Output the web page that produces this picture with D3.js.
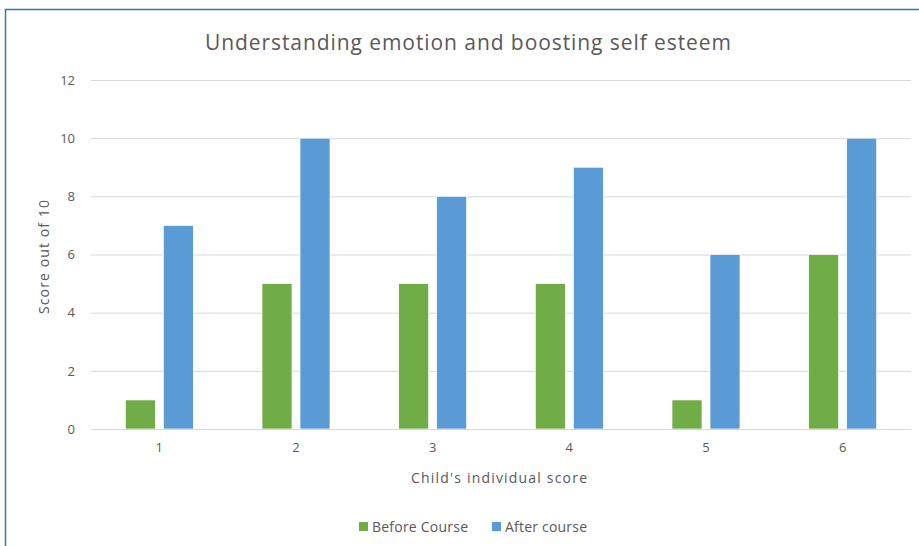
<!DOCTYPE html>
<html>
<head>
<meta charset="utf-8">
<script src="https://cdn.jsdelivr.net/npm/d3@7"></script>
<style>
  body { margin: 0; background: #fff; }
  text { font-family: "Open Sans", "Noto Sans", sans-serif; fill: #595959; }
</style>
</head>
<body>
<div id="chart"></div>
<script>
// data
var categories = ["1", "2", "3", "4", "5", "6"];
var beforeCourse = [1, 5, 5, 5, 1, 6];
var afterCourse = [7, 10, 8, 9, 6, 10];
var seriesNames = ["Before Course", "After course"];
var yTicks = [0, 2, 4, 6, 8, 10, 12];

var W = 919, H = 546;
var margin = { top: 80, right: 8, bottom: 117, left: 91 },
    width = W - margin.left - margin.right,
    height = H - margin.top - margin.bottom;

var colors = ["#70AD47", "#5B9BD5"];

var root = d3.select("#chart").append("svg")
    .attr("width", W)
    .attr("height", H);

// chart frame (only top and left edges visible)
root.append("rect")
    .attr("x", 5.5).attr("y", 9.5)
    .attr("width", W + 20).attr("height", H + 20)
    .attr("fill", "none")
    .attr("stroke", "#2E75B6")
    .attr("stroke-width", 1.5);

var svg = root.append("g")
    .attr("transform", "translate(" + margin.left + "," + margin.top + ")");

var x = d3.scaleBand().domain(categories).range([0, width]);
var y = d3.scaleLinear().domain([0, 12]).range([height, 0]);

// gridlines
svg.append("g")
    .call(d3.axisLeft(y).tickValues(yTicks).tickSize(-width).tickFormat(""))
    .call(function (g) { g.select(".domain").remove(); })
    .selectAll("line")
    .attr("stroke", "#D9D9D9");

// y labels
svg.append("g")
    .call(d3.axisLeft(y).tickValues(yTicks).tickSize(0).tickPadding(16))
    .call(function (g) { g.select(".domain").remove(); })
    .selectAll("text")
    .style("font-size", "13px")
    .attr("fill", "#595959");

// bars
var data = categories.map(function (c, i) {
    return { cat: c, values: [beforeCourse[i], afterCourse[i]] };
});
var barW = 30, gap = 8;
var groups = svg.selectAll(".grp")
    .data(data)
    .enter()
    .append("g")
    .attr("transform", function (d) { return "translate(" + (x(d.cat) + x.bandwidth() / 2) + ",0)"; });

groups.selectAll("rect")
    .data(function (d) { return d.values; })
    .enter()
    .append("rect")
    .attr("x", function (d, i) { return i === 0 ? -barW - gap / 2 : gap / 2; })
    .attr("y", function (d) { return y(d); })
    .attr("width", barW)
    .attr("height", function (d) { return y(0) - y(d); })
    .attr("fill", function (d, i) { return colors[i]; })
    .attr("stroke", "#fff")
    .attr("stroke-width", 0.7);

// x axis
var xAxis = svg.append("g")
    .attr("transform", "translate(0," + height + ")")
    .call(d3.axisBottom(x).tickSize(0).tickPadding(14));
xAxis.select(".domain").attr("stroke", "#D9D9D9");
xAxis.selectAll("text").style("font-size", "13px").attr("fill", "#595959");

// title
root.append("text")
    .attr("x", 468).attr("y", 50)
    .attr("text-anchor", "middle")
    .style("font-size", "21px")
    .attr("textLength", 526)
    .text("Understanding emotion and boosting self esteem");

// axis titles
root.append("text")
    .attr("x", 499).attr("y", 483)
    .attr("text-anchor", "middle")
    .style("font-size", "14px")
    .attr("textLength", 176)
    .text("Child's individual score");

root.append("text")
    .attr("transform", "translate(49,257) rotate(-90)")
    .attr("text-anchor", "middle")
    .style("font-size", "14px")
    .attr("textLength", 114)
    .text("Score out of 10");

// legend
var legendX = [359, 492];
var legendW = [96, 82];
var legend = root.selectAll(".leg")
    .data(seriesNames)
    .enter()
    .append("g")
    .attr("transform", function (d, i) { return "translate(" + legendX[i] + ",527)"; });
legend.append("rect")
    .attr("x", 0).attr("y", -5)
    .attr("width", 9).attr("height", 9)
    .attr("fill", function (d, i) { return colors[i]; });
legend.append("text")
    .attr("x", 13).attr("y", 5)
    .style("font-size", "14px")
    .attr("textLength", function (d, i) { return legendW[i]; })
    .text(function (d) { return d; });
</script>
</body>
</html>
